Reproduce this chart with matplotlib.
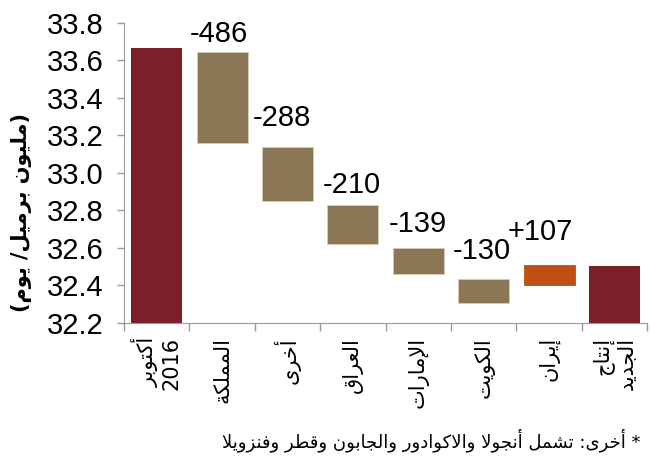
import matplotlib
matplotlib.use('Agg')
import matplotlib.pyplot as plt

# بيانات الرسم (مليون برميل/يوم)
categories = ['أكتوبر\n2016', 'المملكة', 'أخرى', 'العراق', 'الإمارات', 'الكويت', 'إيران', 'إنتاج\nالجديد']
oct_level = 33.667
new_level = 32.504
changes = [-486, -288, -210, -139, -130, 107]          # ألف برميل/يوم
change_starts = [33.646, 33.139, 32.829, 32.598, 32.436, 32.400]
change_text = ['-486', '-288', '-210', '-139', '-130', '+107']
y_ticks = [32.2, 32.4, 32.6, 32.8, 33.0, 33.2, 33.4, 33.6, 33.8]
ylabel = '(مليون برميل/ يوم)'
note = '* أخرى: تشمل أنجولا والاكوادور والجابون وقطر وفنزويلا'

# ازاحة النصوص فوق الاعمدة (نقاط)
label_offsets = [(-2, 7), (-4, 15), (-1, 9), (0, 12), (-1, 14), (-6, 18)]

col_total = '#7b2029'
col_down = '#8b7755'
col_up = '#c04f15'

# تشكيل الحروف العربية يدويا لأن matplotlib لا يدعم ذلك
FORMS = {
    'ء': (0xFE80, 1), 'آ': (0xFE81, 2), 'أ': (0xFE83, 2), 'ؤ': (0xFE85, 2), 'إ': (0xFE87, 2),
    'ئ': (0xFE89, 4), 'ا': (0xFE8D, 2), 'ب': (0xFE8F, 4), 'ة': (0xFE93, 2), 'ت': (0xFE95, 4),
    'ث': (0xFE99, 4), 'ج': (0xFE9D, 4), 'ح': (0xFEA1, 4), 'خ': (0xFEA5, 4), 'د': (0xFEA9, 2),
    'ذ': (0xFEAB, 2), 'ر': (0xFEAD, 2), 'ز': (0xFEAF, 2), 'س': (0xFEB1, 4), 'ش': (0xFEB5, 4),
    'ص': (0xFEB9, 4), 'ض': (0xFEBD, 4), 'ط': (0xFEC1, 4), 'ظ': (0xFEC5, 4), 'ع': (0xFEC9, 4),
    'غ': (0xFECD, 4), 'ف': (0xFED1, 4), 'ق': (0xFED5, 4), 'ك': (0xFED9, 4), 'ل': (0xFEDD, 4),
    'م': (0xFEE1, 4), 'ن': (0xFEE5, 4), 'ه': (0xFEE9, 4), 'و': (0xFEED, 2), 'ى': (0xFEEF, 2),
    'ي': (0xFEF1, 4),
}
LAM_ALEF = {'آ': 0xFEF5, 'أ': 0xFEF7, 'إ': 0xFEF9, 'ا': 0xFEFB}
MIRROR = {'(': ')', ')': '('}


def shape_line(line):
    if not any(ch in FORMS for ch in line):
        return line
    units = []
    i = 0
    while i < len(line):
        c = line[i]
        if c == 'ل' and i + 1 < len(line) and line[i + 1] in LAM_ALEF:
            units.append((c, LAM_ALEF[line[i + 1]], 2))
            i += 2
        elif c in FORMS:
            units.append((c, FORMS[c][0], FORMS[c][1]))
            i += 1
        else:
            units.append((c, None, 0))
            i += 1
    out = []
    for k, (c, base, n) in enumerate(units):
        if base is None:
            out.append(MIRROR.get(c, c))
            continue
        prev_j = k > 0 and units[k - 1][2] == 4
        next_j = n == 4 and k + 1 < len(units) and units[k + 1][2] >= 2
        if n == 1:
            code = base
        elif n == 2:
            code = base + 1 if prev_j else base
        else:
            if prev_j and next_j:
                code = base + 3
            elif prev_j:
                code = base + 1
            elif next_j:
                code = base + 2
            else:
                code = base
        out.append(chr(code))
    return ''.join(reversed(out))


def shape(text):
    return '\n'.join(shape_line(l) for l in text.split('\n'))


fig = plt.figure(figsize=(6.51, 4.59), dpi=100)
ax = fig.add_axes([0.1905, 0.2963, 0.8035, 0.6537])

w = 0.78
x = list(range(len(categories)))
ax.bar(x[0], oct_level - y_ticks[0], bottom=y_ticks[0], width=w, color=col_total)
ax.bar(x[-1], new_level - y_ticks[0], bottom=y_ticks[0], width=w, color=col_total)
for i, (d, s) in enumerate(zip(changes, change_starts)):
    lo = s + min(d, 0) / 1000.0
    col = col_down if d < 0 else col_up
    ax.bar(x[i + 1], abs(d) / 1000.0, bottom=lo, width=w, color=col,
           edgecolor='#d8ccb4' if d < 0 else col, linewidth=0.6)
    top = lo + abs(d) / 1000.0
    ax.annotate(change_text[i], (x[i + 1], top), xytext=label_offsets[i],
                textcoords='offset points', ha='center', va='baseline',
                fontsize=21, family='Liberation Sans')

ax.set_ylim(32.2, 33.8)
ax.set_xlim(-0.5, len(categories) - 0.5)
ax.set_yticks(y_ticks)
ax.set_yticklabels([f'{v:.1f}' for v in y_ticks], fontsize=21, family='Liberation Sans')

ax.set_xticks(x)
ax.set_xticklabels([shape(c) for c in categories], rotation=90, fontsize=15,
                   family='DejaVu Sans', va='top', ha='center', multialignment='right')
ax.set_xticks([v - 0.5 for v in range(len(categories) + 1)], minor=True)
ax.tick_params(axis='x', which='major', length=0, pad=10)
ax.tick_params(axis='x', which='minor', length=6, color='#999999', width=1)
ax.tick_params(axis='y', length=5, color='#999999', width=1, pad=10)

for side in ['top', 'right']:
    ax.spines[side].set_visible(False)
for side in ['left', 'bottom']:
    ax.spines[side].set_color('#999999')

fig.text(22 / 651, 1 - 212 / 459, shape(ylabel), rotation=90, ha='center', va='center',
         fontsize=15, fontweight='bold', family='DejaVu Sans')
fig.text(640 / 651, 1 - 440 / 459, shape(note), ha='right', va='center',
         fontsize=13, family='DejaVu Sans')

fig.savefig('out.png', dpi=100)
